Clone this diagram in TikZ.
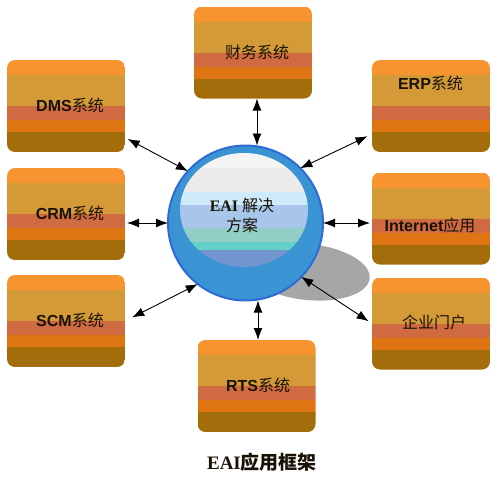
\documentclass[tikz,border=0pt]{standalone}
\usepackage{fontspec}
\setmainfont{Liberation Serif}
\newfontfamily\cjk{Noto Sans CJK SC}
\newfontfamily\arial{Liberation Sans}
\usetikzlibrary{arrows.meta}
\definecolor{sA}{HTML}{F7942F}
\definecolor{sB}{HTML}{D49A38}
\definecolor{sC}{HTML}{D06A40}
\definecolor{sD}{HTML}{DF7512}
\definecolor{sE}{HTML}{A46D0C}
\definecolor{ballfill}{HTML}{3A93D3}
\definecolor{balledge}{HTML}{2F6BD6}
\definecolor{iA}{HTML}{F4F4F4}
\definecolor{iB}{HTML}{EBEBEB}
\definecolor{iC}{HTML}{CFEAFA}
\definecolor{iD}{HTML}{A7C6EA}
\definecolor{iE}{HTML}{93CEC6}
\definecolor{iF}{HTML}{61D0C7}
\definecolor{iG}{HTML}{7195CF}
\definecolor{shadowc}{HTML}{A6A6A6}
\definecolor{labc}{HTML}{1A1206}
\tikzset{
  sysbox/.style={rectangle, rounded corners=8pt, minimum width=118pt, minimum height=92pt,
    inner sep=0pt, outer sep=0pt,
    path picture={
      \fill[sA, sharp corners] (path picture bounding box.north west) rectangle ([yshift=-15pt]path picture bounding box.north east);
      \fill[sB, sharp corners] ([yshift=-15pt]path picture bounding box.north west) rectangle ([yshift=-46pt]path picture bounding box.north east);
      \fill[sC, sharp corners] ([yshift=-46pt]path picture bounding box.north west) rectangle ([yshift=-60pt]path picture bounding box.north east);
      \fill[sD, sharp corners] ([yshift=-60pt]path picture bounding box.north west) rectangle ([yshift=-72pt]path picture bounding box.north east);
      \fill[sE, sharp corners] ([yshift=-72pt]path picture bounding box.north west) rectangle (path picture bounding box.south east);
    }},
  boxlab/.style={inner sep=0pt, text=labc, font=\fontsize{16}{19}\selectfont},
  arr/.style={{Latex[length=12pt,width=9pt]}-{Latex[length=12pt,width=9pt]}, line width=0.9pt, black},
}
\begin{document}
\begin{tikzpicture}[x=1pt,y=-1pt]
\useasboundingbox (0,0) rectangle (501,480);
% shadow
\fill[shadowc, rotate around={-6:(308,272)}] (308,272) ellipse [x radius=62pt, y radius=28pt];
% boxes
\node[sysbox] (cw) at (253,52.5) {};
\node[sysbox] (dms) at (66,106) {};
\node[sysbox] (erp) at (431,106) {};
\node[sysbox] (crm) at (66,214) {};
\node[sysbox] (inet) at (431,218.5) {};
\node[sysbox] (scm) at (66,321) {};
\node[sysbox] (qy) at (431,323.5) {};
\node[sysbox] (rts) at (256.5,386) {};
% labels
\node[boxlab] (cwL) at (257,52) {\cjk 财务系统};
\node[boxlab] (dmsL) at (70,105) {{\arial\bfseries DMS}{\cjk 系统}};
\node[boxlab] (erpL) at (430.5,83) {{\arial\bfseries ERP}{\cjk 系统}};
\node[boxlab] (crmL) at (70,213) {{\arial\bfseries CRM}{\cjk 系统}};
\node[boxlab] (inetL) at (430,225) {{\arial\bfseries Internet}{\cjk 应用}};
\node[boxlab] (scmL) at (70,320) {{\arial\bfseries SCM}{\cjk 系统}};
\node[boxlab] (qyL) at (434,322) {\cjk 企业门户};
\node[boxlab] (rtsL) at (258,385) {{\arial\bfseries RTS}{\cjk 系统}};
% ball
\node[circle, minimum size=155pt, inner sep=0pt, outer sep=0pt, fill=ballfill, draw=balledge, line width=2pt] (eai) at (245.5,223) {};
\begin{scope}
  \clip (244,210) ellipse [x radius=64pt, y radius=57pt];
  \fill[iA] (170,150) rectangle (320,168);
  \fill[iB] (170,168) rectangle (320,192);
  \fill[iC] (170,192) rectangle (320,205);
  \fill[iD] (170,205) rectangle (320,228);
  \fill[iE] (170,228) rectangle (320,242);
  \fill[iF] (170,242) rectangle (320,250);
  \fill[iG] (170,250) rectangle (320,270);
\end{scope}
\node[inner sep=0pt, align=center, text=labc, font=\fontsize{16}{20}\selectfont] (eaiL) at (242,215)
  {{\bfseries EAI} {\cjk 解决}\\{\cjk 方案}};
% arrows
\draw[arr] ([xshift=4pt]cw.south) -- ([xshift=4pt]cw.south |- eai.north);
\draw[arr] ([xshift=1.5pt]rts.north) -- ([xshift=1.5pt]rts.north |- eai.south);
\draw[arr, shorten <=2pt] (eai.west -| crm.east) -- (eai.west);
\draw[arr, shorten >=2pt] (eai.east) -- (eai.east -| inet.west);
\draw[arr, shorten <=3pt] (dms) -- (eai.138);
\draw[arr, shorten <=5pt] (erp) -- (eai.45);
\draw[arr, shorten <=8pt] (scm.east) -- (eai.232);
\draw[arr, shorten >=4pt] (eai.316) -- (qy.west);
% title
\node[inner sep=0pt, text=labc, font=\fontsize{19}{22}\selectfont] (title) at (262,462)
  {{\bfseries EAI}{\cjk\bfseries 应用框架}};
\end{tikzpicture}
\end{document}
